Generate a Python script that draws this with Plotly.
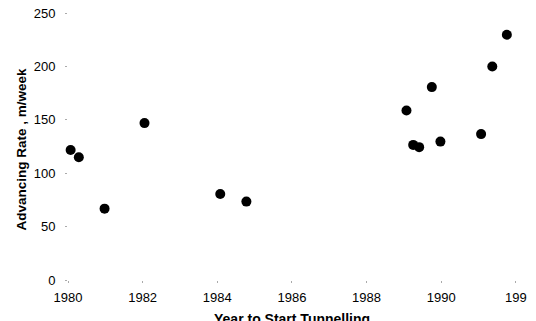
import plotly.graph_objects as go

# Data
years = [1980.07, 1980.29, 1980.98, 1982.05, 1984.08, 1984.78, 1989.07,
         1989.25, 1989.41, 1989.75, 1989.98, 1991.07, 1991.37, 1991.76]
rates = [121.8, 115.0, 66.8, 146.9, 80.6, 73.4, 158.7,
         126.5, 124.4, 180.6, 129.6, 136.6, 199.9, 229.6]

x_tickvals = [1980, 1982, 1984, 1986, 1988, 1990, 1992]
x_ticktext = ["1980", "1982", "1984", "1986", "1988", "1990", "199"]
y_tickvals = [0, 50, 100, 150, 200, 250]

x_title = "Year to Start Tunnelling"
y_title = "Advancing Rate , m/week"

FONT = "Liberation Sans, Arial, Helvetica, sans-serif"

fig = go.Figure()
fig.add_trace(go.Scatter(
    x=years, y=rates, mode="markers",
    marker=dict(color="black", size=10, line=dict(width=0)),
    cliponaxis=False, showlegend=False,
))

fig.update_layout(
    template="none",
    width=536, height=321,
    margin=dict(l=67.5, r=8.5, t=13, b=41, pad=0),
    paper_bgcolor="white", plot_bgcolor="white",
    font=dict(family=FONT, color="black", size=13),
    xaxis=dict(
        range=[1980, 1992.3], tickvals=x_tickvals, ticktext=x_ticktext,
        showgrid=False, zeroline=False, showline=False, automargin=False,
        ticks="outside", ticklen=2, tickcolor="#aaaaaa", tickwidth=1,
        tickfont=dict(size=13), ticklabelstandoff=3,
    ),
    yaxis=dict(
        range=[0, 250], tickvals=y_tickvals,
        showgrid=False, zeroline=False, showline=False, automargin=False,
        ticks="outside", ticklen=2, tickcolor="#aaaaaa", tickwidth=1,
        tickfont=dict(size=13), ticklabelstandoff=7,
    ),
    annotations=[
        dict(text="<b>" + x_title + "</b>", xref="paper", yref="paper",
             x=(291.7 - 67.5) / 460.0, y=-(309 - 280) / 267.0,
             xanchor="center", yanchor="top", showarrow=False,
             font=dict(size=14, family=FONT)),
        dict(text="<b>" + y_title + "</b>", xref="paper", yref="paper",
             x=-(67.5 - 20) / 460.0, y=(280 - 149) / 267.0,
             xanchor="center", yanchor="middle", textangle=-90,
             showarrow=False, font=dict(size=13.5, family=FONT)),
    ],
)

fig.write_html(
    "out.html",
    config={"displayModeBar": False},
    post_script="document.body.style.margin='0';document.body.style.padding='0';"
                "document.documentElement.style.overflow='hidden';",
)
